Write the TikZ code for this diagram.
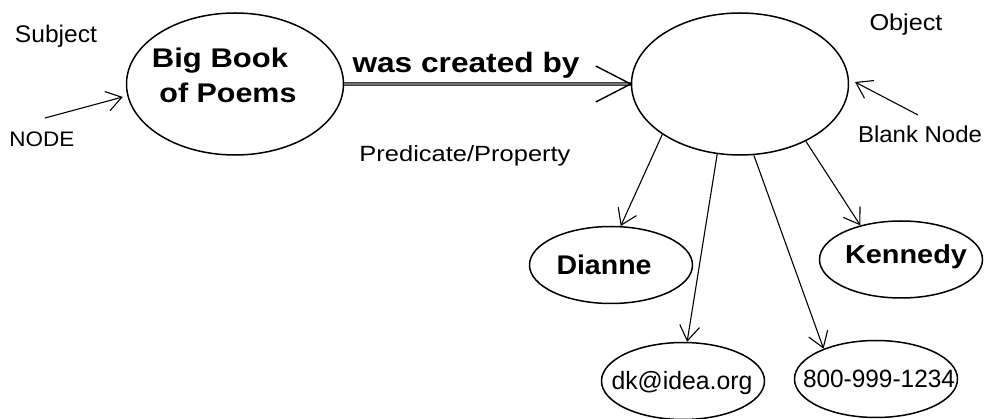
\documentclass[tikz,border=0pt]{standalone}
\usepackage{fontspec}
\setmainfont{Liberation Sans}
\usetikzlibrary{shapes.geometric,arrows.meta}
\newcommand{\fitto}[2]{\resizebox{#1pt}{\height}{#2}}
\begin{document}
\begin{tikzpicture}[x=1pt,y=-1pt,
  oval/.style={ellipse, draw, line width=1.5pt, inner sep=0pt},
  bigoval/.style={oval, minimum width=217pt, minimum height=142pt},
  smalloval/.style={oval, minimum width=163pt, minimum height=77pt},
  txt/.style={anchor=base, inner sep=0pt},
  thinarrow/.style={line width=1.1pt, -{Straight Barb[length=15pt,width=20pt,line width=1.1pt]}},
  mainline/.style={draw=black!75, line width=1pt, double=black!55, double distance=1.2pt},
  barb/.style={line width=1.4pt}
]
\useasboundingbox (0,0) rectangle (986,419);
% main ellipses
\node[bigoval] (bb) at (235,84) {};
\node[bigoval] (obj) at (740,84) {};
\node[txt, font=\fontsize{27}{30}\selectfont\bfseries] (bbl1) at (220,68) {\fitto{136}{Big Book}};
\node[txt, font=\fontsize{27}{30}\selectfont\bfseries] (bbl2) at (228,103) {\fitto{137}{of Poems}};
% child ellipses
\node[smalloval] (dianne) at (611,265) {};
\node[smalloval] (kennedy) at (901,259.5) {};
\node[smalloval] (dk) at (683,381) {};
\node[smalloval] (phone) at (876,379) {};
\node[txt, font=\fontsize{27}{30}\selectfont\bfseries] (diannet) at (604,275) {\fitto{95}{Dianne}};
\node[txt, font=\fontsize{26}{30}\selectfont\bfseries] (kennedyt) at (906,264) {\fitto{122}{Kennedy}};
\node[txt, font=\fontsize{25}{30}\selectfont] (dkt) at (682,390) {\fitto{141}{dk@idea.org}};
\node[txt, font=\fontsize{25}{30}\selectfont] (phonet) at (879,388) {\fitto{152}{800-999-1234}};
% labels
\node[txt, font=\fontsize{24}{28}\selectfont] (subj) at (56,43) {\fitto{82}{Subject}};
\node[txt, font=\fontsize{21}{24}\selectfont] (nodel) at (42,147) {\fitto{65}{NODE}};
\node[txt, font=\fontsize{28}{32}\selectfont\bfseries] (pred) at (466,73) {\fitto{227}{was created by}};
\node[txt, font=\fontsize{22}{26}\selectfont] (predprop) at (465,162) {\fitto{211}{Predicate/Property}};
\node[txt, font=\fontsize{23}{26}\selectfont] (objl) at (906,31) {\fitto{73}{Object}};
\node[txt, font=\fontsize{23}{26}\selectfont] (blank) at (920,143) {\fitto{124}{Blank Node}};
% connectors
\draw[mainline] (bb.east) -- (obj.west);
\draw[barb] (obj.west) ++(-35,-18) -- (obj.west) -- ++(-35,18);
\coordinate (nodestart) at (45,118);
\coordinate (blankstart) at (918,115);
\draw[thinarrow] (nodestart) -- ([xshift=-3pt]bb.west |- 0,97);
\draw[thinarrow] (blankstart) -- (855,82);
\draw[thinarrow] (obj.213.7) -- (dianne.76);
\draw[thinarrow] (obj.252.5) -- (dk.84);
\draw[thinarrow] (obj.281.6) -- (phone.150);
\draw[thinarrow] (obj.319) -- (kennedy.140.6);
\end{tikzpicture}
\end{document}
